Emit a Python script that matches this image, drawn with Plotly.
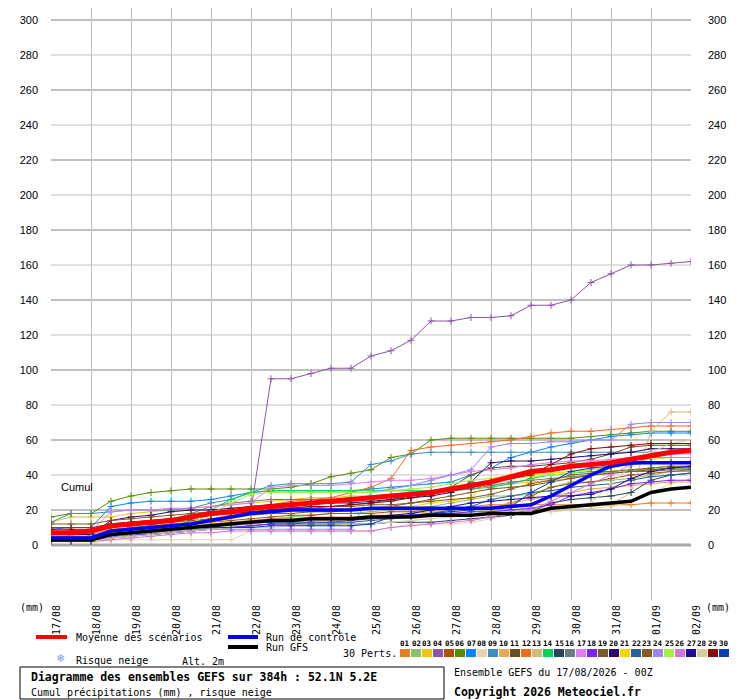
import plotly.graph_objects as go

# time axis: 12h steps from 17/08 00Z to 02/09 00Z (384h)
hours = list(range(0, 385, 12))
day_ticks = list(range(0, 385, 24))
day_labels = ["17/08", "18/08", "19/08", "20/08", "21/08", "22/08", "23/08", "24/08",
              "25/08", "26/08", "27/08", "28/08", "29/08", "30/08", "31/08", "01/09", "02/09"]
y_ticks = list(range(0, 301, 20))

pert_colors = ["#e67e22", "#82c46c", "#f1c40f", "#8e54a9", "#b04f0f", "#5a8a0a", "#0a84ff", "#e8d5b0",
               "#3c8fbc", "#e6a853", "#6b4f1d", "#f26b1d", "#d0bd7a", "#00d458", "#28455e", "#6b7a85",
               "#e07ef0", "#7b22f5", "#7a5a2a", "#2c0a6b", "#f2d600", "#2a6099", "#8a5a22", "#9c86e8",
               "#a8f040", "#d874d8", "#200a9a", "#dccaa0", "#880a0a", "#0a3cbf"]

# cumulated precipitation (mm), one value every 12h
p01 = [3,3,3,5,6,7,8,9,11,12,13,14,14,15,15,15,16,16,17,18,20,22,23,23,23,23,23,23,23,23,24,24,24]
p02 = [4,4,5,7,8,9,10,11,12,13,14,15,16,17,18,18,19,20,21,22,24,26,28,28,29,33,36,36,37,38,40,42,42]
p03 = [13,16,16,16,18,19,20,21,22,23,24,25,26,27,27,28,28,29,30,31,32,33,34,35,36,37,38,40,41,42,44,45,45]
p04 = [3,3,3,6,8,9,10,12,14,16,20,95,95,98,101,101,108,111,117,128,128,130,130,131,137,137,140,150,155,160,160,161,162]
p05 = [5,5,5,8,9,10,11,12,13,14,15,16,17,17,18,18,18,19,19,20,20,21,21,24,28,33,35,36,38,40,41,42,43]
p06 = [16,18,18,25,28,30,31,32,32,32,32,32,33,35,39,41,43,50,52,60,61,61,61,61,61,61,61,62,63,64,65,65,65]
p07 = [9,10,10,22,24,25,25,25,26,28,30,31,31,31,31,31,32,33,34,35,36,40,44,50,53,56,58,60,62,63,64,64,64]
p08 = [1,1,1,3,3,3,3,3,3,3,8,8,8,8,8,8,8,10,12,12,12,13,15,17,19,20,21,21,22,25,30,35,38]
p09 = [13,18,18,19,20,20,20,21,24,26,30,34,35,35,35,36,46,48,52,53,53,53,53,53,53,53,53,53,53,53,53,53,53]
p10 = [4,4,4,7,8,9,10,11,12,13,14,15,15,16,16,16,17,17,18,19,20,21,22,24,26,28,30,32,33,34,35,36,36]
p11 = [10,10,10,12,13,14,15,16,17,18,19,20,21,21,22,23,24,26,28,31,33,40,44,45,45,46,47,49,52,56,57,57,57]
p12 = [6,6,6,9,10,11,12,13,15,17,20,23,25,26,27,30,33,38,54,56,57,58,59,60,62,64,65,65,66,67,68,68,68]
p13 = [3,3,3,5,6,7,8,9,10,11,12,13,13,14,14,15,15,16,16,17,18,19,20,20,21,21,22,22,23,30,65,76,76]
p14 = [3,3,3,5,6,7,10,14,20,26,30,31,31,31,31,31,31,31,31,31,31,32,33,35,38,40,41,42,42,43,43,44,44]
p15 = [2,2,2,4,5,6,7,8,9,10,11,12,12,12,12,12,12,13,13,13,14,15,16,17,19,24,26,27,28,30,37,40,41]
p16 = [5,5,5,8,10,11,14,18,22,24,25,26,26,26,26,27,27,28,29,30,31,32,34,36,37,38,39,40,41,42,42,43,43]
p17 = [8,8,8,19,20,20,21,21,22,23,24,33,34,34,34,35,36,37,37,38,40,42,43,44,46,47,48,48,49,50,51,52,52]
p18 = [2,2,2,5,6,6,7,8,9,10,11,12,12,13,13,14,15,16,17,18,18,19,19,20,21,23,28,30,32,35,36,37,37]
p19 = [7,7,7,10,11,12,13,14,15,16,17,18,18,19,19,20,21,22,24,26,28,30,32,33,34,36,38,40,41,42,43,44,44]
p20 = [6,6,6,14,16,17,19,20,20,21,22,23,23,24,24,24,25,26,27,28,30,36,47,48,48,49,50,51,52,53,55,55,55]
p21 = [4,4,4,7,8,9,10,11,13,15,17,19,20,20,21,21,21,22,22,24,25,27,38,40,40,41,42,43,44,46,47,47,47]
p22 = [2,2,2,5,6,6,7,8,10,12,13,13,13,13,13,13,14,15,16,18,20,22,26,28,30,31,33,34,35,37,39,40,41]
p23 = [12,12,12,14,15,16,17,18,19,20,20,21,21,22,22,22,23,23,24,25,26,27,29,32,35,37,40,41,42,43,44,45,45]
p24 = [3,3,3,5,6,7,8,9,9,9,9,9,9,9,9,9,30,32,34,37,40,43,56,58,58,59,59,60,60,69,70,70,70]
p25 = [4,4,4,6,7,8,9,12,18,24,29,30,30,30,30,30,30,31,32,33,35,37,38,38,39,40,41,43,45,47,49,50,50]
p26 = [2,2,2,3,4,5,6,7,7,8,8,8,8,8,8,8,8,10,11,12,13,14,16,18,20,25,30,35,40,46,50,50,50]
p27 = [3,3,3,6,7,8,9,10,11,12,13,14,14,15,15,15,16,17,18,20,22,24,25,26,27,28,28,29,32,38,42,44,45]
p28 = [2,2,2,4,5,6,7,8,9,10,10,10,11,11,11,12,12,13,14,15,16,17,18,18,19,19,20,24,35,45,53,58,60]
p29 = [9,9,9,12,13,14,15,16,17,18,19,20,21,22,22,23,24,25,27,29,31,33,36,38,40,46,52,55,56,57,58,58,58]
p30 = [2,2,2,6,7,8,9,10,10,10,10,11,11,11,11,11,12,16,17,18,19,20,21,22,30,36,42,44,45,46,47,47,47]

gfs = [3,3,3,6,7,8,9,10,11,12,13,14,14,15,15,15,16,16,16,17,17,17,18,18,18,21,22,23,24,25,30,32,33]
control = [4,4,4,8,9,10,11,12,14,16,18,19,20,20,20,20,21,21,21,21,21,21,21,22,23,28,34,40,45,47,47,47,47]
mean = [7,7,8,11,12,13,14,16,18,19,21,22,23,24,25,26,27,28,29,30,32,34,36,39,42,43,45,46,47,49,51,53,54]

perts = [p01, p02, p03, p04, p05, p06, p07, p08, p09, p10, p11, p12, p13, p14, p15,
         p16, p17, p18, p19, p20, p21, p22, p23, p24, p25, p26, p27, p28, p29, p30]

MONO = "DejaVu Sans Mono"
SANS = "Liberation Sans"

fig = go.Figure()

for vals, col in zip(perts, pert_colors):
    fig.add_trace(go.Scatter(x=hours, y=vals, mode="lines+markers",
                             line=dict(color=col, width=1),
                             marker=dict(symbol="cross-thin", size=5, color=col, line=dict(width=1, color=col)),
                             showlegend=False, hoverinfo="skip"))

fig.add_trace(go.Scatter(x=hours, y=gfs, mode="lines", line=dict(color="#000000", width=3.5),
                         showlegend=False, hoverinfo="skip"))
fig.add_trace(go.Scatter(x=hours, y=control, mode="lines", line=dict(color="#0000ff", width=3.5),
                         showlegend=False, hoverinfo="skip"))
fig.add_trace(go.Scatter(x=hours, y=mean, mode="lines", line=dict(color="#ff0000", width=5),
                         showlegend=False, hoverinfo="skip"))
# invisible trace so the right-hand axis is drawn
fig.add_trace(go.Scatter(x=[0], y=[0], yaxis="y2", mode="markers", marker=dict(opacity=0),
                         showlegend=False, hoverinfo="skip"))

# page has an 8px body margin: plot area spans screen x 51..691, y 8..600
y_lo = -55 / 1.75
y_hi = 537 / 1.75

shapes = []
for v in y_ticks[1:]:
    shapes.append(dict(type="line", xref="paper", yref="y", x0=0, x1=1, y0=v, y1=v, layer="below",
                       line=dict(color="#c0c0c0", width=2 if v % 40 == 20 else 1)))
shapes.append(dict(type="line", xref="paper", yref="y", x0=0, x1=1, y0=0, y1=0, layer="below",
                   line=dict(color="#a8a8a8", width=3)))


def px(x):
    return (x - 51) / 640


def py(y):
    return (600 - y) / 592


# legend lines
shapes.append(dict(type="line", xref="paper", yref="paper", x0=px(36), x1=px(67), y0=py(637), y1=py(637),
                   line=dict(color="#ff0000", width=4)))
shapes.append(dict(type="line", xref="paper", yref="paper", x0=px(228), x1=px(258), y0=py(637), y1=py(637),
                   line=dict(color="#0000ff", width=4)))
shapes.append(dict(type="line", xref="paper", yref="paper", x0=px(228), x1=px(258), y0=py(647), y1=py(647),
                   line=dict(color="#000000", width=4)))
# perturbation colour swatches
for k, col in enumerate(pert_colors):
    x0 = 400 + 11 * k
    shapes.append(dict(type="rect", xref="paper", yref="paper", x0=px(x0), x1=px(x0 + 10),
                       y0=py(657), y1=py(649), fillcolor=col, line=dict(width=0)))
# title box
shapes.append(dict(type="rect", xref="paper", yref="paper", x0=px(20), x1=px(444), y0=py(699), y1=py(667),
                   line=dict(color="#000000", width=1), fillcolor="rgba(0,0,0,0)"))

annotations = []


def ann(x, y, text, size=10, family=MONO, bold=False, color="#000000", xanchor="left"):
    if bold:
        text = "<b>" + text + "</b>"
    annotations.append(dict(x=px(x), y=py(y), xref="paper", yref="paper", text=text, showarrow=False,
                            xanchor=xanchor, yanchor="middle", font=dict(family=family, size=size, color=color)))


ann(59, 487, "Cumul", size=11, family=SANS)
ann(32, 607, "(mm)", size=10, xanchor="center")
ann(718, 607, "(mm)", size=10, xanchor="center")
ann(74, 637, "Moyenne des scénarios", size=10)
ann(264, 637, "Run de contrôle", size=10)
ann(264, 647, "Run GFS", size=10)
ann(60, 659, "❄", size=11, family="DejaVu Sans", color="#6fa8dc", xanchor="center")
ann(74, 660, "Risque neige", size=10)
ann(180, 661, "Alt. 2m", size=10)
ann(341, 653, "30 Perts.", size=10)
for k in range(30):
    ann(405 + 11 * k, 643, "%02d" % (k + 1), size=7.5, bold=True, xanchor="center")
ann(29, 677, "Diagramme des ensembles GEFS sur 384h : 52.1N 5.2E", size=11.5, bold=True)
ann(29, 692, "Cumul précipitations (mm) , risque neige", size=10)
ann(452, 672, "Ensemble GEFS du 17/08/2026 - 00Z", size=10)
ann(452, 692, "Copyright 2026 Meteociel.fr", size=11.5, bold=True)

fig.update_layout(
    width=732, height=692,
    margin=dict(l=43, r=49, t=0, b=100, pad=0),
    paper_bgcolor="white", plot_bgcolor="white",
    showlegend=False,
    xaxis=dict(range=[0, 384], tickvals=day_ticks, ticktext=day_labels, tickangle=-90,
               showgrid=True, gridcolor="#c0c0c0", gridwidth=1, zeroline=False, showline=False,
               ticks="", tickfont=dict(family=MONO, size=10, color="#000000"),
               ticklabelshift=6, ticklabelstandoff=2, fixedrange=True),
    yaxis=dict(range=[y_lo, y_hi], tickvals=y_ticks, showgrid=False, zeroline=False, showline=False,
               ticks="", tickfont=dict(family=SANS, size=11, color="#000000"), ticklabelstandoff=12),
    yaxis2=dict(range=[y_lo, y_hi], tickvals=y_ticks, overlaying="y", side="right", showgrid=False,
                zeroline=False, showline=False, ticks="",
                tickfont=dict(family=SANS, size=11, color="#000000"), ticklabelstandoff=16),
    shapes=shapes,
    annotations=annotations,
)

fig.write_html("out.html")
